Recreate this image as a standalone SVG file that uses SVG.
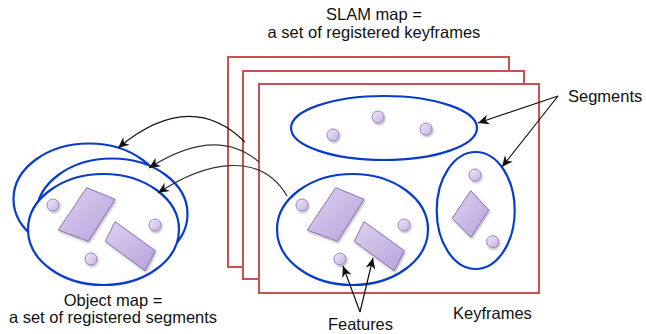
<svg xmlns="http://www.w3.org/2000/svg" xmlns:xlink="http://www.w3.org/1999/xlink" width="646" height="334" viewBox="0 0 646 334">
<style>
  .kf { fill: #ffffff; stroke: #c9514f; stroke-width: 2; }
  .seg { fill: none; stroke: #0a3ccc; stroke-width: 2.2; }
  .obj { fill: #ffffff; stroke: #0a3ccc; stroke-width: 2.2; }
  .shape { fill: url(#gShape); stroke: #8a73b5; stroke-width: 1; filter: url(#shadow); }
  .dot { fill: url(#gDot); stroke: #9a85c4; stroke-width: 1; filter: url(#shadow); }
  .lbl { font-family: "Liberation Sans", Arial, sans-serif; font-size: 16.5px; fill: #111111; }
  .conn { fill: none; stroke: #111111; stroke-width: 1.2; marker-end: url(#arr); }
  .conn2 { fill: none; stroke: #333333; stroke-width: 1.2; marker-end: url(#arr); }
</style>
<defs>
  <linearGradient id="gShape" x1="0" y1="0" x2="1" y2="1">
    <stop offset="0" stop-color="#ddd2ef"/>
    <stop offset="1" stop-color="#b7a2dc"/>
  </linearGradient>
  <linearGradient id="gDot" x1="0" y1="0" x2="1" y2="1">
    <stop offset="0" stop-color="#efe9f8"/>
    <stop offset="1" stop-color="#c4b2e1"/>
  </linearGradient>
  <filter id="shadow" x="-30%" y="-30%" width="160%" height="160%">
    <feDropShadow dx="1" dy="1.5" stdDeviation="1" flood-color="#000000" flood-opacity="0.3"/>
  </filter>
  <marker id="arr" viewBox="0 0 10 10" refX="10" refY="5" markerWidth="11" markerHeight="11" markerUnits="userSpaceOnUse" orient="auto">
    <path d="M0,0.5 L10,5 L0,9.5 L3,5 z" fill="#111111"/>
  </marker>
  <g id="segContent">
    <polygon class="shape" points="335.7,187.7 364,199.3 337.3,241.3 307.3,230"/>
    <polygon class="shape" points="364,221.7 404.3,250.7 394,270.7 354.3,241.3"/>
    <circle class="dot" cx="302" cy="205" r="6"/>
    <circle class="dot" cx="404" cy="225" r="6"/>
    <circle class="dot" cx="340" cy="259" r="6"/>
  </g>
</defs>

<rect width="646" height="334" fill="#ffffff"/>

<g id="keyframe1"><rect class="kf" x="228" y="57" width="281" height="210"/></g>
<g id="keyframe2"><rect class="kf" x="243" y="71" width="281" height="208"/></g>
<g id="keyframe3">
  <rect class="kf" x="259" y="84" width="280" height="209"/>
</g>

<g id="segment-top">
  <ellipse class="seg" cx="384" cy="128" rx="93" ry="32"/>
  <circle class="dot" cx="333" cy="135" r="6"/>
  <circle class="dot" cx="378" cy="117" r="6"/>
  <circle class="dot" cx="426" cy="129" r="6"/>
</g>
<g id="segment-left">
  <ellipse class="seg" cx="352.5" cy="229.5" rx="75.5" ry="55.5"/>
  <use xlink:href="#segContent" href="#segContent"/>
</g>
<g id="segment-right">
  <ellipse class="seg" cx="475.7" cy="210.5" rx="39" ry="58.5"/>
  <polygon class="shape" points="470.7,190.7 488.7,210 470.7,237.3 452.3,218.3"/>
  <circle class="dot" cx="475" cy="175" r="6"/>
  <circle class="dot" cx="492.7" cy="241.7" r="6"/>
</g>

<g id="object-A"><ellipse class="obj" cx="89" cy="199" rx="75.5" ry="55.5"/></g>
<g id="object-B"><ellipse class="obj" cx="112" cy="214" rx="75.5" ry="55.5"/></g>
<g id="object-C">
  <ellipse class="obj" cx="103.5" cy="229.5" rx="75.5" ry="55.5"/>
  <use xlink:href="#segContent" href="#segContent" transform="translate(-249,0)"/>
</g>

<g id="connectors">
  <path class="conn" d="M245,142 Q190,88 118,148"/>
  <path class="conn2" d="M259,162 Q216,125 149,168"/>
  <path class="conn2" d="M287,196 C260,150 205,162 158,193"/>
  <path class="conn" d="M558,96 L478,123"/>
  <path class="conn" d="M558,96 L502,167"/>
  <path class="conn" d="M360,312 L343,266"/>
  <path class="conn" d="M360,312 L373,258"/>
</g>

<g id="labels">
  <text class="lbl" x="374" y="19.5" text-anchor="middle">SLAM map =</text>
  <text class="lbl" x="374" y="38" text-anchor="middle">a set of registered keyframes</text>
  <text class="lbl" x="113" y="305.5" text-anchor="middle">Object map =</text>
  <text class="lbl" x="113" y="323" text-anchor="middle">a set of registered segments</text>
  <text class="lbl" x="568" y="102">Segments</text>
  <text class="lbl" x="453" y="318.5">Keyframes</text>
  <text class="lbl" x="360.5" y="330" text-anchor="middle">Features</text>
</g>
</svg>
